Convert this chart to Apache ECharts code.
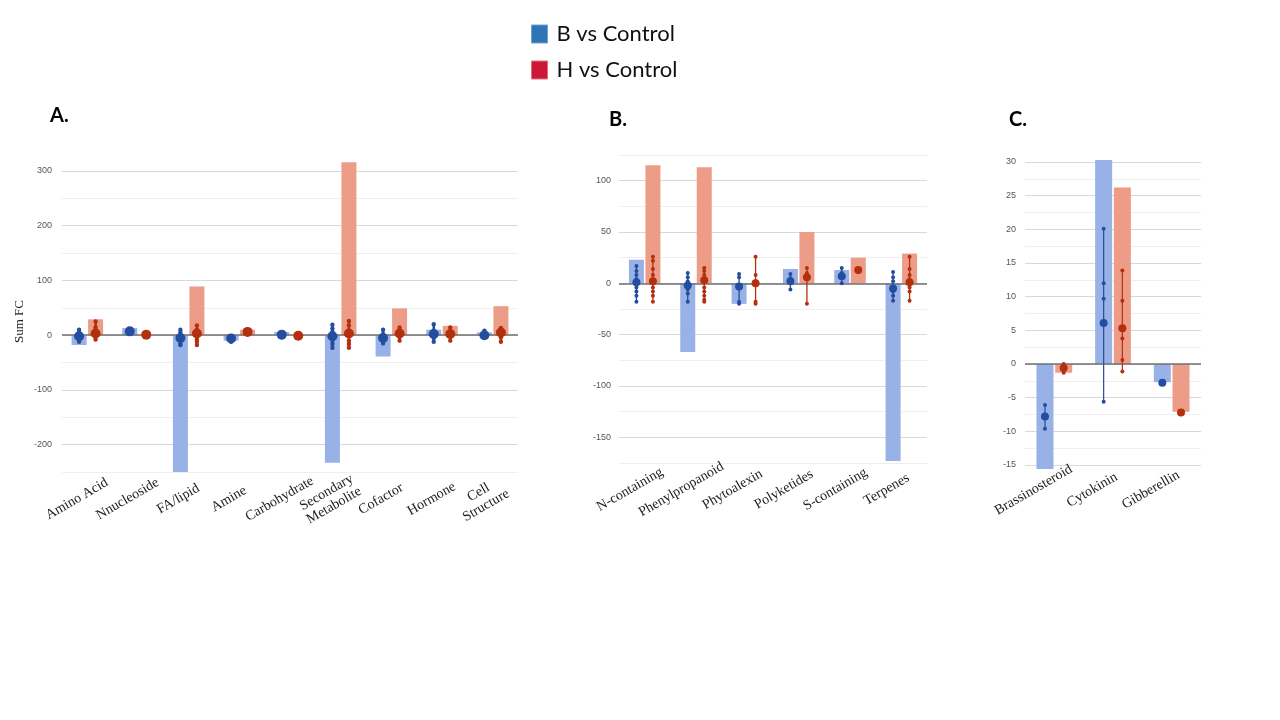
<!DOCTYPE html>
<html><head><meta charset="utf-8">
<script src="https://cdn.jsdelivr.net/npm/echarts@6/dist/echarts.min.js"></script>
<style>html,body{margin:0;padding:0;background:#fff}#main{width:1280px;height:720px}</style>
</head><body><div id="main"></div>
<script>
// ---------- Panel A ----------
const aCats = ['Amino Acid','Nnucleoside','FA/lipid','Amine','Carbohydrate','Secondary\nMetabolite','Cofactor','Hormone','Cell\nStructure'];
const aSumB = [-18, 13, -250, -10, 6, -233, -39, 10, 5];
const aSumH = [29, 0, 89, 10, 0, 316, 49, 17, 53];
const aMeanB = [-2, 7, -5, -6, 1, -2, -5, 2, 0];
const aMeanH = [3, 1, 3, 6, -1, 3, 3, 2, 5];
const aPtsB = [[10,5,-5,-10,-12],[8,6],[10,5,-10,-15,-18],[-2,-8,-12],[4,-2,-4],[19,12,6,-10,-16,-23],[10,2,-8,-15],[20,8,-5,-12],[8,2,-3]];
const aPtsH = [[25,14,8,-3,-8],[1],[18,10,-8,-12,-18],[8,4],[0,-2],[26,18,8,-10,-16,-23],[14,5,-3,-10],[14,5,-3,-10],[13,6,-4,-12]];
const aTicks = [-200,-100,0,100,200,300];

// ---------- Panel B ----------
const bCats = ['N-containing','Phenylpropanoid','Phytoalexin','Polyketides','S-containing','Terpenes'];
const bSumB = [23, -67, -20, 14, 13, -173];
const bSumH = [115, 113, 0, 50, 25, 29];
const bMeanB = [1, -2, -3, 2, 7, -5];
const bMeanH = [2, 3, 0, 6, 13, 1];
const bPtsB = [[17,12,8,4,-4,-8,-12,-18],[10,6,2,-6,-10,-18],[9,6,-18,-20],[9,5,-6],[15,10,0],[11,6,2,-8,-12,-17]];
const bPtsH = [[26,22,14,8,-4,-8,-12,-18],[15,12,8,-4,-8,-12,-16,-18],[26,8,2,-18,-20],[15,10,-20],[14,11],[26,14,8,4,-4,-8,-17]];
const bTicks = [-150,-100,-50,0,50,100];

// ---------- Panel C ----------
const cCats = ['Brassinosteroid','Cytokinin','Gibberellin'];
const cSumB = [-15.6, 30.3, -2.7];
const cSumH = [-1.3, 26.2, -7.1];
const cMeanB = [-7.8, 6.1, -2.8];
const cMeanH = [-0.6, 5.3, -7.2];
const cPtsB = [[-6.1,-9.6],[20.1,12,9.7,-5.6],[-2.8]];
const cPtsH = [[0,-1.3],[13.9,9.4,3.8,0.6,-1.1],[-7.2]];
const cTicks = [-15,-10,-5,0,5,10,15,20,25,30];

const legendNames = ['B vs Control','H vs Control'];

const BAR_B = '#98b1e6', BAR_H = '#ed9c88';
const DOT_B = '#234d9e', DOT_H = '#b3300f';
const GAP = 0.1;

function panel(idx, cats, sumB, sumH, meanB, meanH, ptsB, ptsH, ticks, st) {
  const off = st.barWidth * (1 + GAP) / 2;
  function custom(name, means, pts, color, sign) {
    return {
      type: 'custom', name: name, xAxisIndex: idx, yAxisIndex: idx, z: 5,
      data: means.map((m, i) => [i, m]),
      encode: {x: 0, y: 1},
      renderItem: function (params, api) {
        const i = api.value(0), m = api.value(1);
        const c = api.coord([i, m]);
        const x = c[0] + sign * off;
        const ys = pts[params.dataIndex].map(v => api.coord([i, v])[1]);
        ys.push(c[1]);
        const ch = [{type: 'line', shape: {x1: x, y1: Math.min.apply(null, ys), x2: x, y2: Math.max.apply(null, ys)},
          style: {stroke: color, lineWidth: st.lineW}}];
        pts[params.dataIndex].forEach(v => {
          ch.push({type: 'circle', shape: {cx: x, cy: api.coord([i, v])[1], r: st.rPt}, style: {fill: color}});
        });
        ch.push({type: 'circle', shape: {cx: x, cy: c[1], r: st.rMean}, style: {fill: color}});
        return {type: 'group', children: ch};
      }
    };
  }
  return {
    grid: Object.assign({containLabel: false}, st.grid),
    xAxis: {
      type: 'category', gridIndex: idx, data: cats,
      axisLine: {show: false}, axisTick: {show: false},
      axisLabel: {interval: 0, rotate: 30, align: 'center', margin: st.labelMargin,
        padding: [0, st.labelShift * 2, 0, 0],
        fontFamily: 'Liberation Serif', fontSize: 14, color: '#222', lineHeight: 15}
    },
    yAxis: {
      type: 'value', gridIndex: idx, min: st.min, max: st.max, interval: st.interval,
      name: st.yName || '', nameLocation: 'middle', nameGap: 36, nameRotate: 90,
      nameTextStyle: {fontFamily: 'Liberation Serif', fontSize: 13, color: '#222'},
      axisLine: {show: false}, axisTick: {show: false},
      axisLabel: {margin: st.labelGap, fontFamily: 'Liberation Sans', fontSize: 9, color: '#555',
        formatter: v => ticks.indexOf(v) >= 0 ? String(v) : ''},
      splitLine: {show: true, lineStyle: {color: st.lineColors, width: 1}}
    },
    series: [
      {type: 'bar', name: legendNames[0], xAxisIndex: idx, yAxisIndex: idx, data: sumB, barWidth: st.barWidth,
        barGap: (GAP * 100) + '%', clip: false, itemStyle: {color: BAR_B},
        markLine: {silent: true, symbol: ['none', 'none'], label: {show: false},
          lineStyle: {color: '#6f6f6f', width: 1.5, type: 'solid'}, data: [{yAxis: 0}]}},
      {type: 'bar', name: legendNames[1], xAxisIndex: idx, yAxisIndex: idx, data: sumH, barWidth: st.barWidth,
        barGap: (GAP * 100) + '%', clip: false, itemStyle: {color: BAR_H}},
      custom(legendNames[0], meanB, ptsB, DOT_B, -1),
      custom(legendNames[1], meanH, ptsH, DOT_H, 1)
    ]
  };
}

const pA = panel(0, aCats, aSumB, aSumH, aMeanB, aMeanH, aPtsB, aPtsH, aTicks, {
  grid: {left: 62, top: 171, width: 456, height: 301},
  min: -250, max: 300, interval: 50, barWidth: 15, labelMargin: 21, labelShift: 12,
  labelGap: 10, lineW: 2.5, rPt: 2.2, rMean: 5, yName: 'Sum FC',
  lineColors: ['#efefef', '#d9d9d9']
});
const pB = panel(1, bCats, bSumB, bSumH, bMeanB, bMeanH, bPtsB, bPtsH, bTicks, {
  grid: {left: 619, top: 155, width: 308, height: 308},
  min: -175, max: 125, interval: 25, barWidth: 15, labelMargin: 18, labelShift: 17,
  labelGap: 8, lineW: 1.3, rPt: 2, rMean: 4,
  lineColors: ['#efefef', '#d9d9d9']
});
const pC = panel(2, cCats, cSumB, cSumH, cMeanB, cMeanH, cPtsB, cPtsH, cTicks, {
  grid: {left: 1025, top: 162, width: 176, height: 303},
  min: -15, max: 30, interval: 2.5, barWidth: 17, labelMargin: 13, labelShift: 24,
  labelGap: 9, lineW: 1.2, rPt: 2, rMean: 4,
  lineColors: ['#d9d9d9', '#efefef']
});

const panels = [pA, pB, pC];
const option = {
  animation: false,
  backgroundColor: '#ffffff',
  legend: {
    orient: 'vertical', left: 526, top: 17, itemWidth: 16, itemHeight: 18, itemGap: 12,
    icon: 'rect',
    textStyle: {fontFamily: 'Lato', fontSize: 22, color: '#111', lineHeight: 24, padding: [0, 0, 0, 4]},
    data: [
      {name: legendNames[0], itemStyle: {color: '#2e75b6', borderColor: '#6fa0d6', borderWidth: 1}},
      {name: legendNames[1], itemStyle: {color: '#cc1a36', borderColor: '#e07080', borderWidth: 1}}
    ],
    selectedMode: false
  },
  title: [
    {text: 'A.', left: 45, top: 101, textStyle: {fontFamily: 'Lato', fontWeight: 'bold', fontSize: 20, color: '#000'}},
    {text: 'B.', left: 604, top: 105, textStyle: {fontFamily: 'Lato', fontWeight: 'bold', fontSize: 20, color: '#000'}},
    {text: 'C.', left: 1004, top: 105, textStyle: {fontFamily: 'Lato', fontWeight: 'bold', fontSize: 20, color: '#000'}}
  ],
  grid: panels.map(p => p.grid),
  xAxis: panels.map(p => p.xAxis),
  yAxis: panels.map(p => p.yAxis),
  series: [].concat(pA.series, pB.series, pC.series)
};
const chart = echarts.init(document.getElementById('main'));
chart.setOption(option);
</script>
</body></html>
